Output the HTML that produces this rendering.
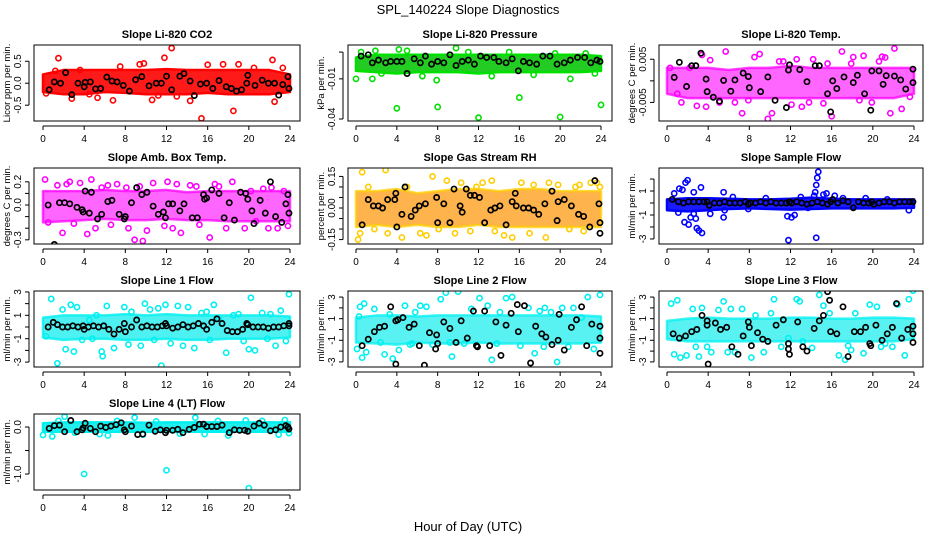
<!DOCTYPE html>
<html><head><meta charset="utf-8">
<style>
body{margin:0;background:#fff;}
svg{display:block;font-family:"Liberation Sans",Arial,sans-serif;}
</style></head>
<body>
<svg id="chart" width="936" height="540" viewBox="0 0 936 540">
<text x="468" y="14" text-anchor="middle" font-size="13">SPL_140224  Slope Diagnostics</text>
<text x="468" y="531" text-anchor="middle" font-size="13">Hour of Day (UTC)</text>
</svg>
<script>
const xTicks=[0,4,8,12,16,20,24];
const bandHours=[0,2,4,6,8,10,12,14,16,18,20,22,24];

// CO2
const co2Lo=[-0.2,-0.25,-0.25,-0.2,-0.22,-0.25,-0.25,-0.25,-0.22,-0.25,-0.25,-0.25,-0.2];
const co2Hi=[0.2,0.3,0.3,0.3,0.3,0.3,0.32,0.3,0.3,0.3,0.3,0.3,0.2];
const co2OutX=[1.5,12.5,11.8,15.4,18.5,22.3,9.4,10.6,6.8,2.8,0.3,14.3,19,17.5,22.5,23.3,5.3,16,1.2,4.5,9.8,13,20.5,7.5,11.2,3.6];
const co2OutY=[0.57,0.8,0.58,-0.8,-0.63,0.53,0.43,-0.38,-0.39,-0.35,-0.23,-0.4,0.43,0.43,-0.42,0.35,-0.33,0.42,0.28,-0.25,0.45,-0.3,0.35,0.38,-0.28,0.3];
const co2BlkX=[0.6,1.1,1.7,2.2,2.8,3.4,4,4.1,4.6,5.1,5.6,6.2,6.7,7.2,7.8,8.4,9,9.6,10.3,11,11.5,12,12.5,13.3,13.7,14.3,14.7,15.3,15.9,16.5,17.1,17.8,18.3,18.8,19.3,19.8,19.9,20.6,21.3,21.9,22.5,22.9,23.3,23.8,23.9];
const co2BlkY=[-0.15,0.03,0,0.24,-0.26,0,-0.08,0.02,0.03,-0.13,-0.12,0.14,0.05,0.03,-0.05,-0.18,0.08,0.15,-0.06,0,0,0.16,-0.15,0.16,0.22,0.05,-0.28,-0.02,0,-0.12,0.06,-0.08,-0.12,-0.18,-0.15,0,0.18,-0.05,0.07,0,0,-0.27,-0.03,0.15,-0.12];

// Pressure
const prLo=[-0.004,-0.005,-0.006,-0.005,-0.005,-0.005,-0.006,-0.005,-0.005,-0.005,-0.005,-0.005,-0.004];
const prHi=[0.006,0.008,0.008,0.008,0.008,0.008,0.008,0.008,0.008,0.008,0.008,0.008,0.007];
const prOutX=[4,8,12,16,20,24,0,1.6,7.9,4.2,9.8,0.5,2.5,5,11,13.3,15,17.4,19.5,21,22.5,23.4,1.9,6.5];
const prOutY=[-0.032,-0.031,-0.039,-0.024,-0.0385,-0.0295,-0.01,-0.01,-0.011,0.012,0.013,0.01,-0.006,0.011,0.01,-0.008,0.01,-0.007,0.009,-0.01,0.009,-0.006,0.011,-0.008];
const prBlkX=[0.5,1.2,1.6,2.2,2.9,3.4,4,4.5,5,5.7,6.3,6.8,7.4,8,8.6,9.2,9.8,10.4,11,11.6,12.2,12.8,13.5,14,14.7,15.3,15.9,16.4,17,17.7,18.3,19,19.7,20.4,21,21.7,22.4,23,23.6,23.9];
const prBlkY=[0.007,0.008,0.002,0.004,0.002,0.003,0.003,0.003,-0.006,0.005,0.002,0.007,0.001,0.003,0.002,0.008,0,0.003,0.004,0.001,0.007,0.006,0.006,0.003,0.002,0.005,-0.004,0.003,0.002,0.001,0.007,0.007,0.001,0.002,0.004,0.006,0.006,0.002,0.004,0.003];

// Li-820 Temp
const ltLo=[-0.003,-0.004,-0.004,-0.004,-0.004,-0.004,-0.004,-0.004,-0.004,-0.004,-0.004,-0.004,-0.003];
const ltHi=[0.003,0.003,0.003,0.0025,0.003,0.003,0.0035,0.003,0.003,0.003,0.003,0.003,0.003];
const ltOutX=[0.3,1.4,2.9,3.4,4.2,5.7,6.6,7.3,8.5,9,9.8,10.2,11.3,12.6,13.1,14.2,15.2,16,17,18.1,18.7,19.1,20.6,21.2,21.7,22.1,22.8,23.6,2.2,7.9,13.8,17.9,5.1,10.9,15.6,19.9,1,3.8,12.1,20.9];
const ltOutY=[0.003,-0.005,-0.0058,0.006,0.0048,0.0068,-0.005,-0.0075,0.0055,0.0062,-0.0088,-0.0075,0.0045,0.005,-0.006,0.005,-0.0052,-0.0082,0.0068,0.0055,-0.0045,0.0058,0.0045,0.0054,-0.0075,0.0075,-0.0065,-0.0037,0.003,-0.0045,-0.005,0.004,-0.005,0.0045,0.004,-0.005,-0.003,-0.006,-0.0055,0.0056];
const ltBlkX=[0.7,1.2,1.9,2.4,2.8,3.3,3.8,3.9,4.5,5.1,5.5,6.2,6.6,7.4,7.9,8,9.1,9.8,10.5,11.6,11.8,11.9,12.9,13.6,14.4,14.8,15.6,15.9,16.1,16.5,17.2,18.1,18.5,19.2,19.8,19.9,20.6,21,21.3,22.1,22.7,23.2,23.9,23.9];
const ltBlkY=[0.0008,0.0043,-0.0013,0.0035,0.0035,0.0064,0.0004,-0.0025,-0.0038,-0.0047,0.0001,-0.0024,0.0002,0.0018,0.001,-0.0016,-0.0025,0.0009,-0.0045,-0.0062,0.0025,0.0037,0.0026,-0.0002,0.0035,0.0035,-0.003,-0.0072,0,-0.0018,0.0009,-0.0004,0.0013,-0.003,-0.0068,0.0023,0.0023,-0.0008,0.0012,0.0011,0.0002,-0.0019,0.0027,-0.0004];

// Amb box temp
const abLo=[-0.15,-0.14,-0.13,-0.12,-0.13,-0.13,-0.12,-0.13,-0.13,-0.14,-0.14,-0.14,-0.14];
const abHi=[0.12,0.12,0.12,0.13,0.12,0.12,0.13,0.11,0.12,0.12,0.12,0.12,0.12];
const abOutX=[0.2,0.9,1.4,1.9,2.3,3,3.6,4.3,4.7,5.7,6.6,7.2,8.3,8.9,9.4,9.7,10.7,11.8,12.1,13,13.4,14.3,15.2,16.2,17.1,18.4,19.3,19.6,20.7,21.4,22.2,22.8,23.4,23.8,0.5,6.3,10.1,14.9,17.8,21.9,2.6,5.1,8.1,12.6,16.7,20.2];
const abOutY=[0.22,-0.37,0.17,-0.24,0.18,-0.16,0.19,-0.25,0.22,0.15,-0.17,0.18,-0.2,-0.3,0.16,-0.31,0.19,-0.18,0.2,0.18,-0.24,0.17,-0.17,-0.28,0.16,0.2,0.35,-0.2,-0.14,0.14,0.15,-0.2,0.12,-0.18,-0.15,0.17,-0.22,0.16,-0.2,-0.2,0.2,-0.2,0.15,-0.2,0.18,0.12];
const abBlkX=[0.5,1.1,1.6,2.1,2.6,3.3,3.8,3.9,4.1,4.5,4.7,5.3,5.7,6.3,6.7,7.4,7.9,8.0,8.6,9.1,9.6,10.1,10.7,11.2,11.7,11.9,12.2,12.6,13.3,13.7,14.5,15,15.6,15.7,15.9,16.4,17.1,17.6,18.1,18.6,19.2,19.7,19.9,20.3,20.5,21.1,21.6,22.1,22.6,23.2,23.6,23.8,23.9];
const abBlkY=[0,-0.34,0.02,0.02,0.01,-0.02,-0.04,-0.06,0.12,-0.07,0.11,-0.12,-0.08,0.03,0.04,-0.08,-0.12,-0.1,0.02,0.15,0.09,0.11,-0.01,-0.08,-0.06,-0.11,0.01,0.01,-0.05,0.01,-0.11,-0.11,0.09,0.05,0.06,0.13,0.1,-0.11,0.02,-0.13,0.11,0.1,0.05,-0.05,-0.16,0.04,-0.07,0.2,-0.1,-0.15,0.01,0.09,-0.07];

// Gas stream RH
const rhLo=[-0.09,-0.08,-0.09,-0.08,-0.09,-0.09,-0.08,-0.09,-0.09,-0.09,-0.09,-0.09,-0.09];
const rhHi=[0.08,0.08,0.09,0.07,0.08,0.09,0.09,0.08,0.09,0.09,0.08,0.08,0.08];
const rhOutX=[0.2,0.4,0.6,1.2,2.9,3.1,4.5,5,6.3,6.9,7.5,8.9,9.7,10.3,11.2,12.4,13.3,13.6,14.5,15.3,16.2,17.4,18.6,18.9,19.8,20.9,21.5,22.3,23,23.6,1.8,8.1,11.8,17,21.9,23.9];
const rhOutY=[-0.15,-0.12,0.17,0.1,0.18,-0.12,-0.14,0.1,-0.12,-0.13,0.15,0.13,-0.12,0.12,-0.11,0.12,0.13,-0.11,-0.13,-0.14,0.12,0.11,-0.14,0.12,0.11,-0.1,0.1,-0.11,0.12,0.12,-0.1,-0.1,0.1,-0.12,0.11,0.1];
const rhBlkX=[0.6,1.2,1.7,2.2,2.6,3.1,3.8,3.9,4,4.5,4.8,5.4,5.8,6.2,6.8,7.9,8,8.6,9.2,9.6,10.2,10.4,10.8,11.2,11.6,12.1,12.6,13.2,13.6,14.1,14.7,15.3,15.6,15.7,16.4,16.9,17.4,17.9,18.5,19.2,19.7,19.8,20.4,21.1,21.8,22.3,22.9,23.4,23.8,23.9,23.9];
const rhBlkY=[-0.08,0.04,0.01,0.01,0,0.04,0.04,0.07,-0.09,-0.03,0.1,-0.04,-0.01,0.01,0.02,0.05,-0.07,0.02,-0.07,0.09,0.01,-0.02,0.09,0.06,0.06,0.05,-0.07,-0.01,0,0.01,-0.08,0.03,0.07,0.01,0,0,-0.01,-0.03,0.02,0.08,-0.06,0.03,0.04,0.01,-0.03,-0.04,-0.09,0.13,0.02,-0.07,-0.12];

// Sample flow
const sfLo=[-0.6,-0.7,-0.6,-0.5,-0.45,-0.5,-0.55,-0.5,-0.45,-0.45,-0.45,-0.45,-0.4];
const sfHi=[0.3,0.4,0.4,0.35,0.3,0.3,0.35,0.45,0.35,0.3,0.3,0.3,0.3];
const sfOutX=[0.7,1.2,1.5,1.8,2,2.3,2.6,2.9,3.1,3.4,1.7,2.1,2.6,2.8,3.3,5.5,5.6,5.5,7.9,11.7,11.8,12.1,12.4,13.7,14.3,14.5,14.6,14.7,14.5,14.4,15.2,15.5,16.3,17.1,13,6.4,9.6,19.3,21.4,23.5,1.1,4.2];
const sfOutY=[0.8,1.2,1.1,1.7,1.9,-1.2,0.9,-2.1,-2.3,-2.5,-1.6,-1.8,-0.9,-1.3,1.3,0.9,-0.6,-1.2,-0.5,-1.1,-3.1,-1.2,-1,-0.4,0.6,1.5,2.1,2.6,-2.9,0.9,0.7,0.8,0.6,0.4,0.5,0.5,0.4,0.4,0.3,-0.6,-0.8,-0.9];
const sfBlkX=[0.5,1.1,1.6,2.1,2.6,3.1,3.6,3.9,4.1,4.6,5.1,5.6,6.1,6.6,7.1,7.6,7.9,8.1,8.6,9.1,9.6,10.1,10.6,11.1,11.6,11.9,12.1,12.6,13.1,13.6,14.1,14.6,15.1,15.6,15.9,16.1,16.6,17.1,17.6,18.1,18.6,19.1,19.6,19.9,20.1,20.6,21.1,21.6,22.1,22.6,23.1,23.6,23.9];
const sfBlkY=[0.3,0.1,0,0.1,0.1,0.1,0.1,0.1,-0.2,0,0,0.1,0,0,0,0.1,-0.1,0,0,0.1,0,0.1,0,0,0,0.1,0,0.1,0,-0.1,0,0.1,0,-0.1,0.1,0.3,0,0.2,0.1,-0.4,0.1,0,0,0.1,-0.1,0,0.1,0.1,0,0.1,0.1,0.1,0.1];

// Line 1 flow
const l1Lo=[-0.9,-1.1,-1,-1,-1.1,-1.1,-1,-1.1,-1.1,-1,-1,-1,-0.9];
const l1Hi=[0.8,1,1,1,1.1,1,1.1,1,1,1,1,1,0.9];
const l1OutX=[0.8,1.4,1.9,2.2,2.7,3,3.3,3.8,4.5,5.2,5.7,5.8,6.2,6.9,7.9,8.3,8.6,9.5,9.9,10.4,11.2,11.5,11.9,12.4,13.1,13.6,14.1,14.7,15.4,15.9,16.6,17.1,17.8,18.5,19,19.5,20,20.2,20.6,21.3,22.1,22.6,23.1,23.6,23.9,0.3,4.8,10.8,16.2,21.8];
const l1OutY=[2.4,-3.1,1.5,-1.9,1.9,-2.1,1.7,-1.1,0.6,1,-2.1,-2.5,1.8,-1.8,1.7,-1.5,1.3,-1.6,2,1.5,1.6,-3.3,1.9,-1.4,1.8,-1.6,1.7,-1.8,1.2,1.3,1.9,0.7,-2.2,1,1.1,-1.2,-1.9,2.5,-2,1.2,1.1,-1.6,1.4,-1.2,2.8,-0.8,-1,-1.1,-1.1,-1];
const l1BlkX=[0.5,1,1.4,1.9,2.4,2.9,3.4,3.9,4,4.4,4.9,5.4,5.9,6.4,6.9,7.4,7.9,8,8.6,9.1,9.6,10.1,10.6,11.1,11.6,11.9,12,12.6,13.1,13.6,14.1,14.6,15.1,15.6,15.9,16.4,16.9,17.4,17.9,18.4,18.9,19.4,19.8,19.9,20.4,20.9,21.4,21.9,22.4,22.9,23.4,23.9,23.9];
const l1BlkY=[0,0.4,0.2,0,0,0.1,0,0.1,-0.2,0,0.1,0,0.1,-0.2,-0.6,-0.2,0.3,-0.4,0,0.6,0,0.1,0,0,0.1,0.3,0.1,-0.1,0,0.2,0,0.1,0.3,0.1,-0.2,0.4,0.7,0.3,-0.3,-0.4,-0.4,-0.2,0.3,0.2,0,0,0,-0.1,0,0,0.1,0.3,0.1];

// Line 2 flow
const l2Lo=[-1.2,-1.3,-1.4,-1.2,-1.3,-1.3,-1.2,-1.3,-1.3,-1.3,-1.3,-1.3,-1.2];
const l2Hi=[1.1,1.3,1.3,1.2,1.3,1.3,1.3,1.3,1.3,1.3,1.3,1.3,1.2];
const l2OutX=[0.1,0.4,0.6,0.8,1,1.8,2.4,2.8,3.3,3.6,4.2,4.8,5.3,5.8,6.3,6.9,7.5,8.3,8.8,9.4,10,10.6,11.3,12.1,12.9,13.3,14.1,14.7,15.3,16.1,16.9,17.5,18,18.5,19.1,19.7,20.2,20.8,21.3,22.1,22.7,23.3,23.9,0.3,5.5,9.2,13.8,18.4];
const l2OutY=[-1.8,2.1,-2.6,2.4,-2.1,1.9,-1.2,-2.3,1.4,-2.7,-1.9,2.2,-1.4,1.6,2.2,2.1,-1.4,2.8,3.4,-2.5,3.5,-1.3,1.9,2.9,2.2,-2.8,1.6,2.9,3,-1.5,2,-2.2,1.7,2,1.6,-3,2,-1.6,2,1.1,3,-1.8,3.2,1.2,-1.3,-1.2,-1.3,-1.6];
const l2BlkX=[0.6,1.2,1.8,2.3,2.8,3.4,3.9,3.9,4.1,4.6,5.2,5.7,6.2,6.7,7.2,7.8,7.9,8,8.6,9.2,9.8,10.3,10.9,11.5,11.8,11.9,12.6,13.1,13.7,14.2,14.7,15.2,15.8,15.9,16.5,17.1,17.6,18.2,18.6,19.2,19.8,19.9,20.4,21.1,21.6,22.1,22.6,23.1,23.9,23.9,23.9];
const l2BlkY=[-1.5,-0.9,-0.2,0.2,0.3,2.1,-3.2,0.8,0.9,1.1,0.2,0.5,-1.5,-3.3,-0.3,-1.8,-0.5,-1.3,0.7,0.1,-1.2,0.8,-0.8,1.7,-1.5,-1.6,1.7,-1.5,0.7,-2.4,0.4,1.5,2.3,-0.2,2.2,-3.1,0.3,-0.4,-0.7,-1.4,-1.0,1.4,-1.9,0.2,0.9,2.1,-1.5,0.5,-0.8,0.3,-2.2];

// Line 3 flow
const l3Lo=[-0.9,-1.1,-1.1,-1.1,-1.1,-1.1,-1.1,-1.1,-1.1,-1.1,-1.1,-1.1,-0.9];
const l3Hi=[0.8,1,1.1,1,1,1,1.1,1.1,1,1,1.1,1.1,1];
const l3OutX=[0.4,1,1.3,1.9,2.5,3.1,3.4,3.9,4.3,5,5.5,5.9,6.6,7.3,8.2,8.6,9.4,10.4,11.1,11.8,12.6,13.2,14.1,14.8,15.2,15.8,16.7,17.3,17.9,18.3,19.1,19.7,20.4,21.2,21.9,22.4,23.1,23.5,23.9,0.7,2.8,6.2,10.1,12.9,17.6,20.8];
const l3OutY=[2.4,2.7,-2.6,-2.4,1.9,-2.5,2,-1.6,-2.1,1.8,2.6,-2.1,-2.1,1.9,-2.6,1.3,-2.1,2.8,-1.6,-0.8,2.8,-1.1,-1.7,3.2,2.2,1.5,-2.4,-2.8,-1.9,1.5,-2.2,2.3,2.1,-1.3,-1.6,2.3,-2.4,2.8,3.6,-2.3,-1.6,1.9,1.5,2.6,-1.5,-1.6];
const l3BlkX=[0.6,1.2,1.8,2.4,2.9,3.4,3.9,3.9,4,4.7,5.2,5.8,6.3,6.9,7.4,7.9,8,8.2,8.8,9.3,9.8,10.6,11.3,11.8,11.8,11.9,12.7,13.2,13.6,14.3,14.8,15.2,15.6,15.8,15.9,16.5,17.1,17.6,18.2,18.8,19.3,19.7,19.8,20.3,20.9,21.4,21.9,22.3,22.8,23.4,23.9,23.9,23.9];
const l3BlkY=[-0.4,-0.8,-0.6,-0.2,0,1.3,0.8,0.4,-3.2,0.6,0,0.2,-1.6,-2.3,-0.6,0.7,0.2,-1.5,-0.3,-0.9,-1.1,0.4,0.9,-1.8,-1.3,-2.3,0.7,-1.6,-2,0.1,0.8,1.3,3.5,2.7,-0.2,-0.4,2.1,-2.5,-0.2,-0.2,0.2,-1.3,-1.5,0.4,-1,-0.4,0.2,2.4,-0.8,0,-0.4,-1.2,0.3];

// Line 4 (LT) flow
const l4Lo=[-0.1,-0.1,-0.1,-0.1,-0.1,-0.1,-0.1,-0.1,-0.1,-0.1,-0.1,-0.1,-0.1];
const l4Hi=[0.08,0.1,0.1,0.1,0.1,0.09,0.1,0.1,0.1,0.1,0.1,0.1,0.1];
const l4OutX=[4,12,20,0,0.9,2.1,3.1,5.5,6.3,8.9,9.7,11,14.8,15.7,18,19.7,21.3,22.9,23.5,1.5,7.2,13.3,17,23.9];
const l4OutY=[-1.0,-0.92,-1.3,-0.17,-0.2,0.22,-0.12,-0.15,-0.18,0.2,-0.16,0.12,0.2,-0.15,-0.18,0.14,0.13,-0.16,0.15,0.13,0.13,-0.14,0.13,-0.13];
const l4BlkX=[0.6,1.1,1.6,2.1,2.7,3.3,3.8,3.9,4.1,4.6,5.1,5.6,6.1,6.6,7.1,7.6,7.9,8,8.6,9.2,9.7,10.3,10.9,11.4,11.9,12,12.6,13.1,13.6,14.2,14.7,15.2,15.6,15.9,16.4,16.9,17.4,18.1,18.6,19.1,19.6,19.9,20.5,21,21.5,22.1,22.6,23.1,23.6,23.8,23.9];
const l4BlkY=[-0.03,0.03,0.04,-0.1,0.14,-0.1,-0.06,-0.02,0.08,-0.03,-0.1,0.02,-0.01,0.02,0.05,0.09,-0.06,-0.1,0.02,-0.16,-0.15,0.04,-0.09,-0.06,-0.12,-0.07,-0.07,-0.05,-0.12,-0.05,-0.01,0.06,0.06,0.01,0.01,0.01,0.04,-0.12,-0.06,-0.07,-0.07,-0.09,0.02,0.08,0.04,-0.08,-0.06,0,0.03,0,-0.04];

const svg=document.getElementById('chart');
const NS='http://www.w3.org/2000/svg';
function mk(tag,attrs,parent){const e=document.createElementNS(NS,tag);for(const k in attrs)e.setAttribute(k,attrs[k]);(parent||svg).appendChild(e);return e;}

const cols=[{l:34,r:300,x0:43,x24:290},{l:348,r:612,x0:356,x24:601},{l:659,r:923,x0:667,x24:914}];
const rows=[{t:45,b:121},{t:168,b:244},{t:291,b:367},{t:414,b:490}];

const panels=[
 {id:'co2',title:'Slope Li-820 CO2',ylab:'Licor ppm per min.',c:0,r:0,ymin:-0.86,ymax:0.87,ticks:[-0.5,0,0.5],labels:['-0.5','0.0','0.5'],col:'#ff0000',band:'#ff1a1a',op:1,lo:co2Lo,hi:co2Hi,ox:co2OutX,oy:co2OutY,bx:co2BlkX,by:co2BlkY},
 {id:'pressure',title:'Slope Li-820 Pressure',ylab:'kPa per min.',c:1,r:0,ymin:-0.0415,ymax:0.0153,ticks:[0.01,-0.01,-0.04],labels:['','-0.01','-0.04'],col:'#00e000',band:'#22cc22',op:1,lo:prLo,hi:prHi,ox:prOutX,oy:prOutY,bx:prBlkX,by:prBlkY},
 {id:'li820-temp',title:'Slope Li-820 Temp.',ylab:'degrees C per min.',c:2,r:0,ymin:-0.0093,ymax:0.0083,ticks:[0.005,0,-0.005],labels:['0.005','','-0.005'],col:'#ff00ff',band:'#ff33ff',op:0.75,lo:ltLo,hi:ltHi,ox:ltOutX,oy:ltOutY,bx:ltBlkX,by:ltBlkY},
 {id:'amb-box-temp',title:'Slope Amb. Box Temp.',ylab:'degrees C per min.',c:0,r:1,ymin:-0.336,ymax:0.319,ticks:[-0.3,-0.2,-0.1,0,0.1,0.2],labels:['-0.3','','','0.0','','0.2'],col:'#ff00ff',band:'#ff33ff',op:0.75,lo:abLo,hi:abHi,ox:abOutX,oy:abOutY,bx:abBlkX,by:abBlkY},
 {id:'gas-rh',title:'Slope Gas Stream RH',ylab:'percent per min.',c:1,r:1,ymin:-0.171,ymax:0.19,ticks:[-0.15,-0.1,-0.05,0,0.05,0.1,0.15],labels:['-0.15','','','0.00','','','0.15'],col:'#ffcc00',band:'#ff9a10',op:0.75,lo:rhLo,hi:rhHi,ox:rhOutX,oy:rhOutY,bx:rhBlkX,by:rhBlkY},
 {id:'sample-flow',title:'Slope Sample Flow',ylab:'ml/min per min.',c:2,r:1,ymin:-3.42,ymax:2.92,ticks:[-3,-2,-1,0,1,2],labels:['-3','','-1','','1',''],col:'#0000ff',band:'#1a1aff',op:1,lo:sfLo,hi:sfHi,ox:sfOutX,oy:sfOutY,bx:sfBlkX,by:sfBlkY},
 {id:'line1-flow',title:'Slope Line 1 Flow',ylab:'ml/min per min.',c:0,r:2,ymin:-3.42,ymax:3.08,ticks:[-3,-2,-1,0,1,2,3],labels:['-3','','-1','','1','','3'],col:'#00f0f0',band:'#22eeee',op:0.8,lo:l1Lo,hi:l1Hi,ox:l1OutX,oy:l1OutY,bx:l1BlkX,by:l1BlkY},
 {id:'line2-flow',title:'Slope Line 2 Flow',ylab:'ml/min per min.',c:1,r:2,ymin:-3.47,ymax:3.56,ticks:[-3,-2,-1,0,1,2,3],labels:['-3','','-1','','1','','3'],col:'#00f0f0',band:'#22eeee',op:0.75,lo:l2Lo,hi:l2Hi,ox:l2OutX,oy:l2OutY,bx:l2BlkX,by:l2BlkY},
 {id:'line3-flow',title:'Slope Line 3 Flow',ylab:'ml/min per min.',c:2,r:2,ymin:-3.47,ymax:3.56,ticks:[-3,-2,-1,0,1,2,3],labels:['-3','','-1','','1','','3'],col:'#00f0f0',band:'#22eeee',op:0.75,lo:l3Lo,hi:l3Hi,ox:l3OutX,oy:l3OutY,bx:l3BlkX,by:l3BlkY},
 {id:'line4-flow',title:'Slope Line 4 (LT) Flow',ylab:'ml/min per min.',c:0,r:3,ymin:-1.34,ymax:0.277,ticks:[-1,-0.5,0],labels:['-1.0','','0.0'],col:'#00f0f0',band:'#22eeee',op:1,lo:l4Lo,hi:l4Hi,ox:l4OutX,oy:l4OutY,bx:l4BlkX,by:l4BlkY}
];

panels.forEach(p=>{
  const C=cols[p.c],R=rows[p.r];
  const g=mk('g',{});
  
  
  const xs=h=>C.x0+(C.x24-C.x0)*h/24;
  const ys=v=>R.b-(v-p.ymin)/(p.ymax-p.ymin)*(R.b-R.t);
  const clip=mk('clipPath',{id:'clip-'+p.id},g);
  mk('rect',{x:C.l,y:R.t,width:C.r-C.l,height:R.b-R.t},clip);
  const data=mk('g',{'clip-path':'url(#clip-'+p.id+')'},g);
  let pts=bandHours.map((h,i)=>xs(h)+','+ys(p.hi[i]));
  pts=pts.concat(bandHours.slice().reverse().map((h,j)=>{const i=bandHours.length-1-j;return xs(h)+','+ys(p.lo[i]);}));
  const band=mk('polygon',{points:pts.join(' '),fill:p.band,'fill-opacity':p.op,stroke:p.col,'stroke-opacity':p.op,'stroke-width':2.5,'stroke-linejoin':'round'},data);
  
  
  p.ox.forEach((x,i)=>{
    const c=mk('circle',{cx:xs(x),cy:ys(p.oy[i]),r:2.6,fill:'none',stroke:p.col,'stroke-width':1.6},data);
    
    
  });
  p.bx.forEach((x,i)=>{
    const c=mk('circle',{cx:xs(x),cy:ys(p.by[i]),r:2.6,fill:'none',stroke:'#000','stroke-width':1.7},data);
    
    
  });
  const box=mk('rect',{x:C.l,y:R.t,width:C.r-C.l,height:R.b-R.t,fill:'none',stroke:'#000','stroke-width':1},g);
  
  
  const tt=mk('text',{x:(C.l+C.r)/2,y:R.t-7,'text-anchor':'middle','font-size':11,'font-weight':'bold'},g);
  tt.textContent=p.title;
  
  
  mk('line',{x1:xs(0),x2:xs(24),y1:R.b+5,y2:R.b+5,stroke:'#000'},g);
  xTicks.forEach(h=>{
    mk('line',{x1:xs(h),x2:xs(h),y1:R.b+5,y2:R.b+9,stroke:'#000'},g);
    const t=mk('text',{x:xs(h),y:R.b+21,'text-anchor':'middle','font-size':10},g);
    t.textContent=h;
    
    
  });
  const ax=C.l-5;
  mk('line',{x1:ax,x2:ax,y1:ys(Math.min(...p.ticks)),y2:ys(Math.max(...p.ticks)),stroke:'#000'},g);
  p.ticks.forEach((v,i)=>{
    mk('line',{x1:ax-4,x2:ax,y1:ys(v),y2:ys(v),stroke:'#000'},g);
    if(p.labels[i]){
      const t=mk('text',{x:ax-8,y:ys(v),'text-anchor':'middle','font-size':10,transform:'rotate(-90 '+(ax-8)+' '+ys(v)+')'},g);
      t.textContent=p.labels[i];
      
      
    }
  });
  const ly=(R.t+R.b)/2, lx=C.l-24;
  const yl=mk('text',{x:lx,y:ly,'text-anchor':'middle','font-size':9.5,transform:'rotate(-90 '+lx+' '+ly+')'},g);
  yl.textContent=p.ylab;
  
  
});
</script>
</body></html>
